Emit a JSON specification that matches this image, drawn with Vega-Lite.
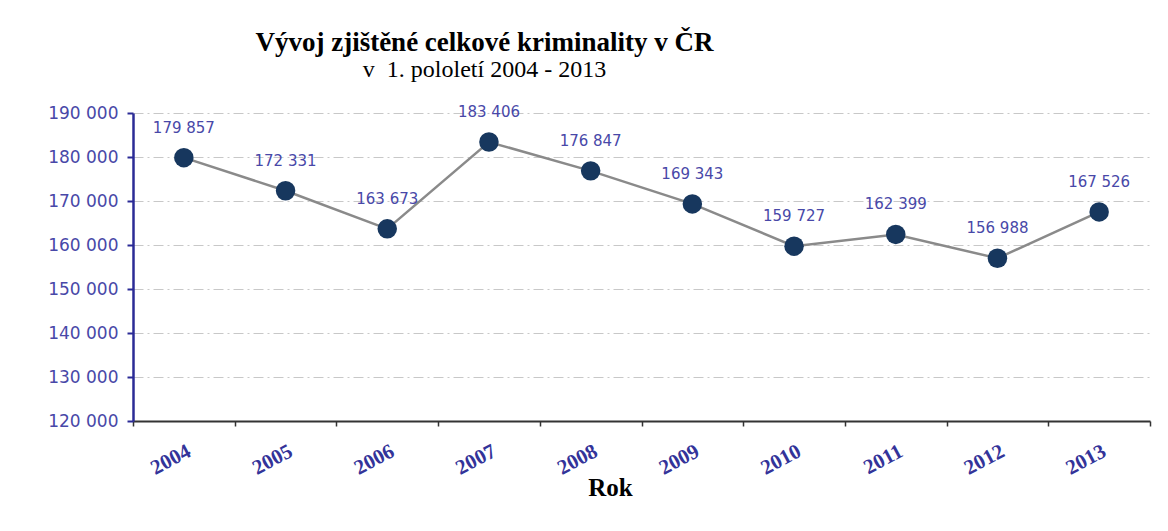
{
  "$schema": "https://vega.github.io/schema/vega-lite/v6.json",
  "width": 1017,
  "height": 308,
  "autosize": {"type": "none"},
  "padding": {"left": 133, "top": 113, "right": 18, "bottom": 110},
  "background": "white",
  "title": {
    "text": "Vývoj zjištěné celkové kriminality v ČR",
    "subtitle": "v\u00a0\u00a01. pololetí 2004 - 2013",
    "anchor": "middle",
    "frame": "group",
    "dx": -157,
    "offset": 21,
    "font": "Liberation Serif",
    "fontSize": 27,
    "fontWeight": "bold",
    "color": "black",
    "subtitleFont": "Liberation Serif",
    "subtitleFontSize": 24,
    "subtitleColor": "black",
    "subtitlePadding": 1
  },
  "config": {
    "locale": {
      "number": {"decimal": ",", "thousands": " ", "grouping": [3], "currency": ["", " Kč"]}
    },
    "view": {"stroke": null}
  },
  "data": {
    "values": [
      {"rok": "2004", "pocet": 179857},
      {"rok": "2005", "pocet": 172331},
      {"rok": "2006", "pocet": 163673},
      {"rok": "2007", "pocet": 183406},
      {"rok": "2008", "pocet": 176847},
      {"rok": "2009", "pocet": 169343},
      {"rok": "2010", "pocet": 159727},
      {"rok": "2011", "pocet": 162399},
      {"rok": "2012", "pocet": 156988},
      {"rok": "2013", "pocet": 167526}
    ]
  },
  "encoding": {
    "x": {
      "field": "rok",
      "type": "ordinal",
      "scale": {"type": "band", "paddingInner": 0, "paddingOuter": 0},
      "axis": {
        "tickBand": "extent",
        "domainColor": "#333333",
        "domainWidth": 2,
        "tickColor": "#333333",
        "tickWidth": 1.5,
        "tickSize": 5,
        "labelAngle": -28,
        "labelAlign": "right",
        "labelBaseline": "top",
        "labelFont": "Liberation Serif",
        "labelFontWeight": "bold",
        "labelFontSize": 21,
        "labelColor": "#333399",
        "labelPadding": 14,
        "title": "Rok",
        "titleFont": "Liberation Serif",
        "titleFontSize": 25,
        "titleFontWeight": "bold",
        "titleColor": "black",
        "titleX": 477,
        "titleY": 66,
        "titleAlign": "center",
        "titleBaseline": "middle",
        "grid": false
      }
    },
    "y": {
      "field": "pocet",
      "type": "quantitative",
      "scale": {"domain": [120000, 190000], "nice": false, "zero": false},
      "axis": {
        "values": [120000, 130000, 140000, 150000, 160000, 170000, 180000, 190000],
        "format": ",.0f",
        "title": null,
        "labelFont": "DejaVu Sans",
        "labelFontSize": 17,
        "labelColor": "#4848a8",
        "labelPadding": 9,
        "domainColor": "#2b2b96",
        "domainWidth": 2.5,
        "tickColor": "#2b2b96",
        "tickWidth": 2,
        "tickSize": 6,
        "grid": true,
        "gridColor": "#c8c8c8",
        "gridWidth": 1,
        "gridDash": [10, 4, 2, 4]
      }
    }
  },
  "layer": [
    {"mark": {"type": "line", "color": "#8a8a8a", "strokeWidth": 2.5}},
    {"mark": {"type": "point", "filled": true, "color": "#17375E", "size": 380, "opacity": 1}},
    {
      "mark": {"type": "text", "dy": -30, "font": "DejaVu Sans", "fontSize": 15, "color": "#4848a8"},
      "encoding": {"text": {"field": "pocet", "type": "quantitative", "format": ",.0f"}}
    }
  ]
}
